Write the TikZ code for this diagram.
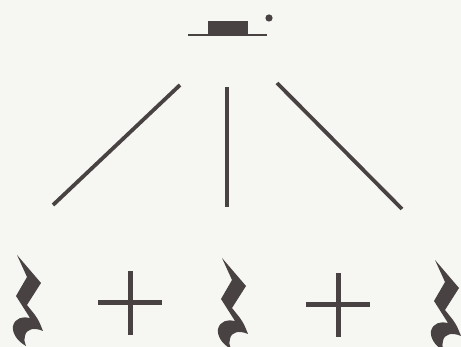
\documentclass[tikz,border=0pt]{standalone}
\usepackage{tikz}
\usetikzlibrary{positioning}

\definecolor{ink}{RGB}{72,66,66}
\definecolor{paper}{RGB}{246,246,243}

\begin{document}
\begin{tikzpicture}[
    x=1pt, y=-1pt,
    branch/.style={draw=ink, line width=3.8pt},
    plusbar/.style={draw=ink, line width=5pt},
    qrest/.pic={
        \fill[ink] (0,0) -- (24,28) -- (10,50) -- (18,60)
            .. controls (22,66) .. (26,76)
            .. controls (17,72) and (9,74) .. (8,81)
            .. controls (7,85) .. (9,91)
            .. controls (0,86) and (-5,78) .. (-4,71)
            .. controls (-2,63) and (6,61) .. (13,63)
            -- (-1,41) -- (10,22) -- cycle;
    }
]
\fill[paper] (0,0) rectangle (461,347);
\useasboundingbox (0,0) rectangle (461,347);

% dotted half rest on top
\coordinate (top) at (228,35);
\draw[ink, line width=2.6pt] ([xshift=-40pt]top) -- ([xshift=39pt]top);
\fill[ink] ([xshift=-20pt]top) rectangle ([xshift=20pt,yshift=14pt]top);
\fill[ink] ([xshift=41pt,yshift=17pt]top) circle (3.6pt);

% branches
\coordinate (la) at (180,85);
\coordinate (lb) at (53,205);
\coordinate (ma) at (227,87);
\coordinate (mb) at (227,207);
\coordinate (ra) at (277,83);
\coordinate (rb) at (402,209);
\draw[branch] (la) -- (lb);
\draw[branch] (ma) -- (mb);
\draw[branch] (ra) -- (rb);

% quarter rests
\pic (r1) at (17,255) {qrest};
\pic (r2) at (222,258) {qrest};
\pic (r3) at (435,260) {qrest};

% plus signs
\coordinate (p1) at (130,303);
\coordinate (p2) at (338,305);
\foreach \p in {p1,p2} {
    \draw[plusbar] ([xshift=-32pt]\p) -- ([xshift=32pt]\p);
    \draw[plusbar] ([yshift=-32pt]\p) -- ([yshift=32pt]\p);
}
\end{tikzpicture}
\end{document}
